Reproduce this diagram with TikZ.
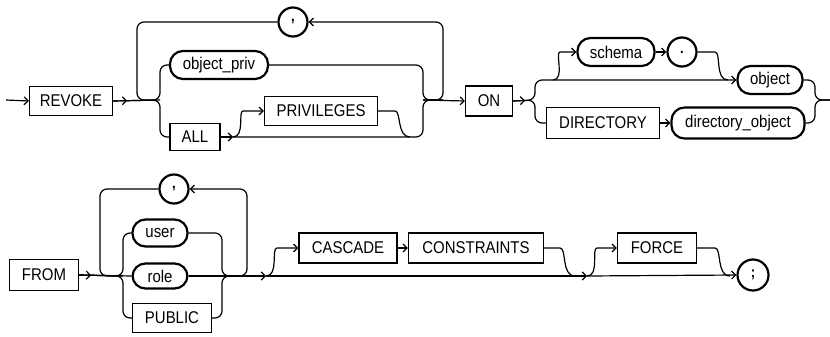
\documentclass[tikz,border=0pt]{standalone}
\usepackage{fontspec}
\setmainfont{Liberation Sans}[FakeStretch=0.88]
\usepackage{tikz}
\usetikzlibrary{arrows.meta, decorations.markings}
\tikzset{
  kw/.style={rectangle, draw, line width=1.2pt, minimum height=29pt,
    inner sep=2pt, font=\fontsize{17}{20}\selectfont},
  nt/.style={rectangle, draw, rounded corners=13pt, line width=2.2pt,
    minimum height=28pt, inner sep=2pt, font=\fontsize{17}{20}\selectfont},
  sym/.style={circle, draw, line width=2.2pt, minimum size=29pt,
    inner sep=0pt, font=\fontsize{15}{18}\selectfont\bfseries},
  line/.style={line width=1.2pt, rounded corners=7pt},
  arrow/.style={line, -{Straight Barb[length=4pt,width=8pt]}},
  midtip/.style={postaction={decorate}, decoration={markings,
    mark=at position #1 with {\arrow{Straight Barb[length=4pt,width=8pt]}}}}
}
\begin{document}
\begin{tikzpicture}[x=1pt, y=-1pt]
  \useasboundingbox (0,0) rectangle (830,337);

  % first line: REVOKE ... ON ...
  \node[kw, minimum width=83pt] (revoke) at (71,101) {REVOKE};
  \node[nt, minimum width=98pt] (objpriv) at (219,65) {object\_priv};
  \node[kw, minimum width=50pt, minimum height=27pt] (all) at (195,137) {ALL};
  \node[kw, minimum width=113pt] (priv) at (321,111) {PRIVILEGES};
  \node[sym] (comma1) at (293,22) {,};
  \node[kw, minimum width=47pt, minimum height=30pt] (on) at (489,101) {ON};
  \node[nt, minimum width=77pt] (schema) at (616,52) {schema};
  \node[sym] (dot) at (682,52) {.};
  \node[nt, minimum width=65pt] (object) at (770,80) {object};
  \node[kw, minimum width=113pt, minimum height=31pt] (directory) at (603,123) {DIRECTORY};
  \node[nt, minimum width=133pt, minimum height=31pt] (dirobj) at (738,123) {directory\_object};

  \coordinate (in1) at (6,100);
  \coordinate (lpL) at (137,100);
  \coordinate (b1) at (160,100);
  \coordinate (c1) at (233,137);
  \coordinate (c2) at (250,111);
  \coordinate (c3) at (388,111);
  \coordinate (c4) at (410,137);
  \coordinate (b2) at (423,100);
  \coordinate (lpR) at (443,100);
  \coordinate (d1) at (535,100);
  \coordinate (e1) at (553,80);
  \coordinate (e2) at (567,52);
  \coordinate (e3) at (708,52);
  \coordinate (e4) at (728,80);
  \coordinate (f1) at (815,100);
  \coordinate (out1) at (830,100);

  \draw[arrow] (in1) -- (revoke.west);
  \draw[line, midtip=14pt] (revoke.east) -- (b1) |- (objpriv.west);
  \draw[line] (revoke.east) -- (b1) |- (all.west);
  \draw[line] (comma1.west) -| (lpL) -- (b1);
  \draw[arrow] (b2) -- (lpR) |- (comma1.east);
  \draw[arrow] (all.east) -- (c1);
  \draw[arrow] (c1) to[out=0,in=180] (c2) -- (priv.west);
  \draw[line] (priv.east) -- (c3) to[out=0,in=180] (c4);
  \draw[line] (c1) -| (b2) -- (lpR);
  \draw[line] (objpriv.east) -| (b2) -- (lpR);
  \draw[arrow] (b2) -- (on.west);

  \draw[arrow, midtip=12pt] (on.east) -- (d1) |- (object.west);
  \draw[line] (on.east) -- (d1) |- (directory.west);
  \draw[arrow] (e1) to[out=0,in=180] (e2) -- (schema.west);
  \draw[arrow] (schema.east) -- (dot.west);
  \draw[line] (dot.east) -- (e3) to[out=0,in=180] (e4);
  \draw[arrow] (directory.east) -- (dirobj.west);
  \draw[line] (object.east) -| (f1) -- (out1);
  \draw[line] (dirobj.east) -| (f1) -- (out1);

  % second line: FROM ... ;
  \node[kw, minimum width=69pt, minimum height=31pt] (from) at (44,275) {FROM};
  \node[sym] (comma2) at (174,189) {,};
  \node[nt, minimum width=55pt, minimum height=27pt] (user) at (160,233) {user};
  \node[nt, minimum width=55pt, minimum height=25pt] (role) at (160,276) {role};
  \node[kw, minimum width=79pt] (public) at (172,318) {PUBLIC};
  \node[kw, minimum width=98pt, minimum height=30pt] (cascade) at (348,248) {CASCADE};
  \node[kw, minimum width=135pt, minimum height=30pt] (constraints) at (476,248) {CONSTRAINTS};
  \node[kw, minimum width=79pt, minimum height=30pt] (force) at (657,248) {FORCE};
  \node[sym, minimum size=31pt] (semi) at (753,275) {;};

  \coordinate (lp2L) at (100,276);
  \coordinate (g2) at (123,276);
  \coordinate (g3) at (222,276);
  \coordinate (lp2R) at (247,276);
  \coordinate (k1) at (266,276);
  \coordinate (k2) at (284,248);
  \coordinate (k3) at (553,248);
  \coordinate (k4) at (575,276);
  \coordinate (m1) at (587,276);
  \coordinate (m2) at (604,248);
  \coordinate (m3) at (708,248);
  \coordinate (m4) at (730,276);

  \draw[line, midtip=12pt] (from.east) -- (g2) |- (user.west);
  \draw[line] (from.east) -- (g2) |- (public.west);
  \draw[line] (from.east) -- (role.west);
  \draw[line] (comma2.west) -| (lp2L) -- (g2);
  \draw[arrow] (g3) -- (lp2R) |- (comma2.east);
  \draw[line] (user.east) -| (g3) -- (lp2R);
  \draw[line] (public.east) -| (g3) -- (lp2R);
  \draw[arrow] (role.east) -- (k1);
  \draw[arrow] (k1) to[out=0,in=180] (k2) -- (cascade.west);
  \draw[arrow] (cascade.east) -- (constraints.west);
  \draw[line] (constraints.east) -- (k3) to[out=0,in=180] (k4);
  \draw[arrow] (k1) -- (m1);
  \draw[arrow] (m1) to[out=0,in=180] (m2) -- (force.west);
  \draw[line] (force.east) -- (m3) to[out=0,in=180] (m4);
  \draw[arrow] (m1) -- (semi.west);
\end{tikzpicture}
\end{document}
